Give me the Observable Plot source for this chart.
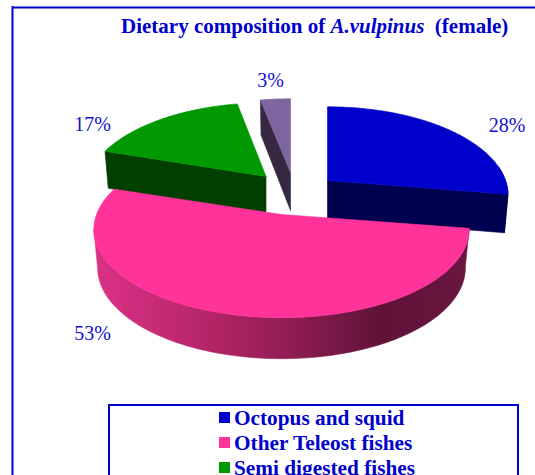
<!DOCTYPE html>
<html><head><meta charset="utf-8">
<script src="https://cdn.jsdelivr.net/npm/d3@7"></script>
<script src="https://cdn.jsdelivr.net/npm/@observablehq/plot@0.6"></script>
<style>
html,body{margin:0;padding:0;background:#fff;width:535px;height:475px;overflow:hidden}
#wrap{position:relative;width:535px;height:475px;overflow:hidden;font-family:"Liberation Serif",serif;color:#0000cc}
#wrap svg{position:absolute;left:0;top:0}
#title{position:absolute;left:121px;top:14px;font-size:21px;font-weight:bold;white-space:pre}
#legend{position:absolute;left:108px;top:404px;width:411px;height:90px;border:2px solid #0000cc;box-sizing:border-box}
.row{position:absolute;left:124px;height:25px;font-size:21.3px;font-weight:bold;line-height:25px;white-space:pre}
.sw{position:absolute;left:-15px;top:6px;width:11px;height:11px}
</style></head><body><div id="wrap"></div>
<script>
// Data
const categories = ["Octopus and squid", "Other Teleost fishes", "Semi digested fishes", null];
const shares = [27.5, 52.5, 17, 3];
const labels = ["28%", "53%", "17%", "3%"];
const topColors = ["#0000cc", "#ff3399", "#009900", "#7f659f"];
const cutColors = ["#000050", "#66143e", "#003f00", "#352840"];

// Layout of the exploded 3D pie
const apexX = [327, 281, 265.5, 290];
const apexY = [180, 214, 176, 172];
const radiusX = [178, 185, 178, 187];
const labelX = [506.5, 92, 92, 270];
const labelY = [127, 335, 126, 82];
const RA = 86, K = 1 / 6;

const total = d3.sum(shares);
const starts = d3.cumsum([0, ...shares]).map(v => v / total * 2 * Math.PI);

function project(i, t, lower) {
  const s = Math.sin(t), c = Math.cos(t), p = 1 / (1 + K * c);
  const depth = 38 - 3 * c;
  const rx = radiusX[i] * (lower ? 0.98 : 1);
  return {x: apexX[i] + rx * s * p, y: apexY[i] - RA * c * p + (lower ? depth : 0)};
}
function arc(i, a, b, lower) {
  const n = Math.max(2, Math.ceil(Math.abs(b - a) / 0.02));
  return d3.range(n + 1).map(k => project(i, a + (b - a) * k / n, lower));
}
const apex = (i, lower) => ({x: apexX[i], y: apexY[i] + (lower ? 38 : 0)});
const close = pts => [...pts, pts[0]];

const poly = (pts, fill) => Plot.line(close(pts), {x: "x", y: "y", fill, stroke: fill, strokeWidth: 0.6, curve: "linear"});

function topFace(i) {
  return poly([apex(i, false), ...arc(i, starts[i], starts[i + 1], false)], topColors[i]);
}
function cutFace(i, t) {
  const e = project(i, t, false), f = project(i, t, true);
  return poly([apex(i, false), e, f, apex(i, true)], cutColors[i]);
}

const BLUE = 0, PINK = 1, GREEN = 2, PURPLE = 3;
const leftmost = 1.5 * Math.PI - 0.17; // where the pink rim turns out of view
const rim = (i, a, b, fill) => poly([...arc(i, a, b, false), ...arc(i, b, a, true)], fill);

const gradient = () => {
  const svg = d3.create("svg:defs");
  const g = svg.append("linearGradient").attr("id", "pinkRim")
    .attr("gradientUnits", "userSpaceOnUse")
    .attr("x1", 95).attr("x2", 469).attr("y1", 0).attr("y2", 0);
  [[0, "#dc3186"], [0.3, "#b42568"], [0.55, "#8a1c50"], [0.76, "#5f1238"], [1, "#6b1640"]]
    .forEach(([o, c]) => g.append("stop").attr("offset", o).attr("stop-color", c));
  return svg.node();
};

const chart = Plot.plot({
  width: 535, height: 475, margin: 0,
  x: {domain: [0, 535], range: [0, 535], axis: null},
  y: {domain: [0, 475], range: [0, 475], axis: null},
  style: {background: "transparent"},
  marks: [
    gradient,
    Plot.ruleY([7], {x1: 12, x2: 535, stroke: "#0000cc", strokeWidth: 2}),
    Plot.ruleX([12], {y1: 6, y2: 475, stroke: "#0000cc", strokeWidth: 2}),
    cutFace(PURPLE, starts[PURPLE]),
    topFace(PURPLE),
    cutFace(GREEN, starts[GREEN]),
    topFace(GREEN),
    rim(BLUE, Math.PI * 0.45, starts[BLUE + 1], cutColors[BLUE]),
    cutFace(BLUE, starts[BLUE + 1]),
    topFace(BLUE),
    rim(PINK, starts[PINK], leftmost, "url(#pinkRim)"),
    topFace(PINK),
    Plot.text(labels, {
      x: (d, i) => labelX[i], y: (d, i) => labelY[i], text: d => d,
      fontSize: 20, fill: "#1111cc", fontFamily: "Liberation Serif", lineAnchor: "bottom", dy: 4
    })
  ]
});

const wrap = document.getElementById("wrap");
wrap.appendChild(chart);

const title = document.createElement("div");
title.id = "title";
title.innerHTML = "Dietary composition of <i>A.vulpinus</i>  (female)";
wrap.appendChild(title);

const legend = document.createElement("div");
legend.id = "legend";
categories.forEach((name, i) => {
  if (!name) return;
  const row = document.createElement("div");
  row.className = "row";
  row.style.top = (i * 25) + "px";
  const sw = document.createElement("span");
  sw.className = "sw";
  sw.style.background = topColors[i];
  row.appendChild(sw);
  row.appendChild(document.createTextNode(name));
  legend.appendChild(row);
});
wrap.appendChild(legend);
</script></body></html>
